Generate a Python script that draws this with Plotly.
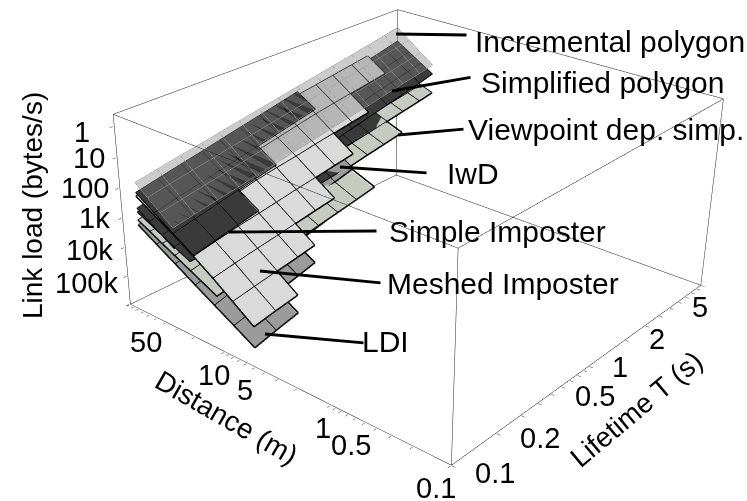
import plotly.graph_objects as go

# log10 of Lifetime T (s) at each grid row
T_LOG = [-0.91,-0.77,-0.62,-0.48,-0.36,-0.22,-0.08,0.06,0.20,0.34,0.47,0.62,0.75,0.89,1.0]
# log10 of Distance (m) at each grid column
D_POLY = [2.0,1.873,1.746,1.62]
D_IMP = [2.0,1.81,1.62,1.42,1.23,1.04,0.84]
D_VIEW = [2.0,1.873,1.746,1.62,1.46,1.2]
_ = None
# log10 of link load (bytes/s): rows follow T_LOG, columns the distance list
INCREMENTAL = [[2.01,2.35,2.68,3.02],[1.88,2.21,2.55,2.88],[1.74,2.08,2.41,2.75],[1.62,1.96,2.29,2.63],
 [1.51,1.84,2.18,2.51],[1.38,1.72,2.05,2.39],[1.26,1.59,1.93,2.26],[1.13,1.47,1.80,2.14],[1.00,1.34,1.68,2.01],
 [0.88,1.21,1.55,1.88],[0.76,1.10,1.43,1.77],[0.63,0.96,1.30,1.63],[0.51,0.84,1.18,1.51],[0.38,0.72,1.05,1.39],[0.27,0.61,0.95,1.28]]
SIMPLE = [[2.35,2.78,3.20,3.65],[2.20,2.62,3.05,3.49],[2.04,2.46,2.88,3.33],[1.90,2.32,2.74,3.18],
 [1.77,2.18,2.60,_],[1.62,2.04,2.45,_],[1.48,1.89,_,_],[1.33,1.74,_,_],[1.18,1.59,_,_]]
MESHED = [[2.47,2.86,3.25,3.68,4.13,4.62,5.14],[2.32,2.72,3.10,3.54,4.00,4.49,5.00],[2.17,2.58,2.95,3.39,3.87,4.36,4.87],
 [2.03,2.45,2.81,3.28,3.76,4.24,_],[1.89,2.32,2.68,3.18,3.65,4.13,_],[1.74,2.19,2.56,3.06,3.53,_,_],[1.60,2.05,2.46,2.95,3.42,_,_],
 [1.45,1.91,2.34,2.83,_,_,_],[1.31,1.77,2.23,2.72,_,_,_],[1.21,1.66,2.12,_,_,_,_],[1.11,1.56,2.02,_,_,_,_],[1.00,1.45,_,_,_,_,_],[0.90,1.35,_,_,_,_,_]]
SIMPLIFIED = [[2.88,3.16,3.44,3.71],[2.72,3.00,3.28,3.55],[2.56,2.83,3.11,3.39],[2.41,2.69,2.97,3.24],[2.27,2.55,2.83,3.10],
 [2.12,2.40,2.68,2.95],[1.97,2.25,2.53,2.80],[1.82,2.10,2.37,2.65],[1.66,1.94,2.22,2.50],[1.51,1.79,2.07,2.34],[1.37,1.65,1.93,2.20],
 [1.21,1.49,1.77,2.04],[1.06,1.34,1.62,1.90],[0.91,1.19,1.47,1.75],[0.78,1.06,1.34,1.61]]
IWD = [[3.01,3.22,3.44,3.65,3.92],[2.91,3.13,3.35,3.56,3.83],[2.82,3.03,3.25,3.46,3.73],[2.73,2.95,3.16,3.38,3.65],[2.65,2.87,3.08,3.30,3.57],
 [2.56,2.78,2.99,3.21,3.48],[2.48,2.69,2.91,3.12,3.39],[2.39,2.60,2.82,3.03,3.30],[2.29,2.51,2.73,2.94,3.21],[2.21,2.42,2.64,2.85,_],[2.12,2.34,2.55,2.77,_],[2.03,2.25,2.46,2.67,_]]
VIEWPOINT = [[3.28,3.50,3.73,3.95,4.23,4.69],[3.17,3.39,3.61,3.83,4.10,4.55],[3.06,3.27,3.49,3.70,3.97,4.41],[2.96,3.17,3.38,3.58,3.85,4.28],
 [2.86,3.07,3.27,3.48,3.74,4.16],[2.76,2.96,3.16,3.36,3.61,4.02],[2.66,2.85,3.05,3.24,3.49,3.89],[2.55,2.74,2.94,3.13,3.37,3.76],[2.45,2.63,2.82,3.01,3.24,3.62],
 [2.35,2.53,2.71,2.89,3.11,_],[2.25,2.43,2.60,2.78,3.00,_],[2.14,2.31,2.48,2.65,2.87,_],[2.04,2.21,2.37,2.54,_,_],[1.94,2.10,2.26,2.42,_,_],[1.85,2.01,2.16,2.32,_,_]]
LDI = [[3.45,3.85,4.24,4.66,5.05,5.44,5.86],[3.27,3.66,4.06,4.47,4.86,5.26,5.67],[3.08,3.47,3.86,4.28,4.67,5.07,5.48],[2.91,3.30,3.69,4.11,4.50,4.89,_],
 [2.74,3.14,3.53,3.95,4.34,4.73,_],[2.57,2.96,3.36,3.77,4.16,_,_],[2.39,2.79,3.18,3.60,3.99,_,_],[2.22,2.61,3.00,3.42,_,_,_],[2.04,2.43,2.82,3.24,_,_,_]]

LAYERS = [
 ("LDI", LDI, D_IMP, "#9b9b9b", 1.0, "#000000", 3),
 ("Viewpoint dep. simp.", VIEWPOINT, D_VIEW, "#c6cbc1", 1.0, "#000000", 3),
 ("IwD", IWD, D_VIEW[:5], "#3a3a3a", 1.0, "#000000", 2),
 ("Simplified polygon", SIMPLIFIED, D_POLY, "#3c3c3c", 1.0, "#000000", 2),
 ("Meshed Imposter", MESHED, D_IMP, "#dadada", 1.0, "#000000", 3),
 ("Simple Imposter", SIMPLE, D_IMP[:4], "#3a3a3a", 1.0, "#000000", 2),
 ("Incremental polygon", INCREMENTAL, D_POLY, "#808080", 0.4, "#999999", 1),
]
T_TICKS = [0.1,0.2,0.3,0.4,0.5,0.6,0.7,0.8,0.9,1,2,3,4,5,6,7,8,9,10]
D_TICKS = [0.1,0.2,0.3,0.4,0.5,0.6,0.7,0.8,0.9,1,2,3,4,5,6,7,8,9,10,20,30,40,50,60,70,80,90,100]
Z_TICKS = [1,10,100,1000,10000,100000,1000000]
T_RANGE = [-1,1]; D_RANGE = [-1,2]; Z_RANGE = [6,-0.38]
PAD = 0.006

W, H, TOP = 747, 1190, 344
def px(x): return x/W
def py(y): return 1-(y+TOP)/H

fig = go.Figure()
for name, table, dlist, color, op, lc, lw in LAYERS:
    xs = [10**t for t in T_LOG[:len(table)]]
    ys = [10**d for d in dlist]
    zs = [[None if v is None else 10**v for v in row] for row in table]
    z_by_d = [list(col) for col in zip(*zs)]
    fig.add_trace(go.Surface(x=xs, y=ys, z=z_by_d, name=name, showscale=False, opacity=op,
        colorscale=[[0,color],[1,color]], cmin=0, cmax=1, surfacecolor=[[0.5]*len(xs) for _r in ys],
        lighting=dict(ambient=1,diffuse=0,specular=0,roughness=1,fresnel=0), hoverinfo="skip"))
    lx, ly, lz = [], [], []
    for i, row in enumerate(zs):
        for j in range(len(ys)):
            if row[j] is None: continue
            if j+1 < len(ys) and row[j+1] is not None:
                lx += [xs[i],xs[i],None]; ly += [ys[j],ys[j+1],None]; lz += [row[j],row[j+1],None]
            if i+1 < len(zs) and zs[i+1][j] is not None:
                lx += [xs[i],xs[i+1],None]; ly += [ys[j],ys[j],None]; lz += [row[j],zs[i+1][j],None]
    fig.add_trace(go.Scatter3d(x=lx,y=ly,z=lz,mode="lines",line=dict(color=lc,width=lw),showlegend=False,hoverinfo="skip"))

# bounding box from the axis ranges
xa,xb = [10**v for v in T_RANGE]; ya,yb = [10**v for v in D_RANGE]; za,zb = [10**v for v in Z_RANGE]
bx,by,bz=[],[],[]
for a,b in [((xa,ya,za),(xb,ya,za)),((xb,ya,za),(xb,yb,za)),((xb,yb,za),(xa,yb,za)),((xa,yb,za),(xa,ya,za)),
            ((xa,ya,zb),(xb,ya,zb)),((xb,ya,zb),(xb,yb,zb)),((xb,yb,zb),(xa,yb,zb)),((xa,yb,zb),(xa,ya,zb)),
            ((xa,ya,za),(xa,ya,zb)),((xb,ya,za),(xb,ya,zb)),((xb,yb,za),(xb,yb,zb)),((xa,yb,za),(xa,yb,zb))]:
    bx+=[a[0],b[0],None]; by+=[a[1],b[1],None]; bz+=[a[2],b[2],None]
fig.add_trace(go.Scatter3d(x=bx,y=by,z=bz,mode="lines",line=dict(color="#222222",width=1),showlegend=False,hoverinfo="skip"))

def ax3(rng, ticks):
    s = 1 if rng[1] > rng[0] else -1
    return dict(type="log", range=[rng[0]-s*PAD, rng[1]+s*PAD], autorange=False, title=dict(text=""), showgrid=False, zeroline=False, showbackground=False,
                showline=False, showticklabels=False, showspikes=False, ticks="outside", ticklen=3, tickwidth=1, tickcolor="#222222",
                tickmode="array", tickvals=ticks)

FONT = "Liberation Sans"
NOTES = [("Incremental polygon",475,42,30),("Simplified polygon",481,82,30),("Viewpoint dep. simp.",468,130,30),("IwD",447,173,30),
         ("Simple Imposter",389,231,30),("Meshed Imposter",387,283,30),("LDI",362,341,30)]
LEADERS = [(396,34,468,35),(392,91,472,77),(398,135,465,129),(340,167,428,173),(228,232,378,231),(260,271,382,283),(265,334,365,343)]
Z_LABELS = [("1",90,132),("10",105,158),("100",109,188),("1k",110,218),("10k",113,250),("100k",118,283)]
D_LABELS = [("50",146,342),("10",214,375),("5",245,390),("1",323,428),("0.5",351,445),("0.1",436,488)]
T_LABELS = [("0.1",495,473),("0.2",540,438),("0.5",595,396),("1",620,367),("2",657,339),("5",700,307)]
TITLES = [("Link load (bytes/s)",32,206,-90),("Distance (m)",226,418,30),("Lifetime T (s)",636,409,-40)]
anns=[]
BASE = dict(xref="paper",yref="paper",yanchor="middle",showarrow=False,borderwidth=0,borderpad=0)
for t,x,y,s in NOTES:
    anns.append(dict(BASE,text=t,x=px(x),y=py(y),xanchor="left",font=dict(family=FONT,size=s,color="black")))
for x0,y0,x1,y1 in LEADERS:
    anns.append(dict(text=" ",x=px(x0),y=py(y0),xref="paper",yref="paper",ax=x1-x0,ay=y1-y0,axref="pixel",ayref="pixel",showarrow=True,arrowhead=0,arrowwidth=2.8,arrowcolor="black",standoff=0,startstandoff=0,font=dict(size=1)))
for t,x,y in Z_LABELS:
    anns.append(dict(BASE,text=t,x=px(x),y=py(y),xanchor="right",font=dict(family=FONT,size=29,color="black")))
for t,x,y in D_LABELS+T_LABELS:
    anns.append(dict(BASE,text=t,x=px(x),y=py(y),xanchor="center",font=dict(family=FONT,size=29,color="black")))
for t,x,y,ang in TITLES:
    anns.append(dict(BASE,text=t,x=px(x),y=py(y),xanchor="center",textangle=ang,font=dict(family=FONT,size=28,color="black")))

fig.update_layout(width=W,height=H,margin=dict(l=0,r=0,t=0,b=0),paper_bgcolor="white",showlegend=False,annotations=anns,
    scene=dict(domain=dict(x=[0,1],y=[0,1]),aspectmode="manual",aspectratio=dict(x=1,y=0.996,z=0.496),
        camera=dict(eye=dict(x=-2.382,y=-1.937,z=1.486),center=dict(x=-0.126,y=0.038,z=-0.09),up=dict(x=0.009,y=-0.007,z=1),projection=dict(type="perspective")),
        xaxis=ax3(T_RANGE,T_TICKS),yaxis=ax3(D_RANGE,D_TICKS),zaxis=ax3(Z_RANGE,Z_TICKS)))
POST = ("var g=document.getElementById('{plot_id}');g.style.position='absolute';g.style.left='0';g.style.top='-%dpx';"
        "document.documentElement.style.overflow='hidden';document.body.style.overflow='hidden';" % TOP)
fig.write_html("out.html", post_script=POST)
